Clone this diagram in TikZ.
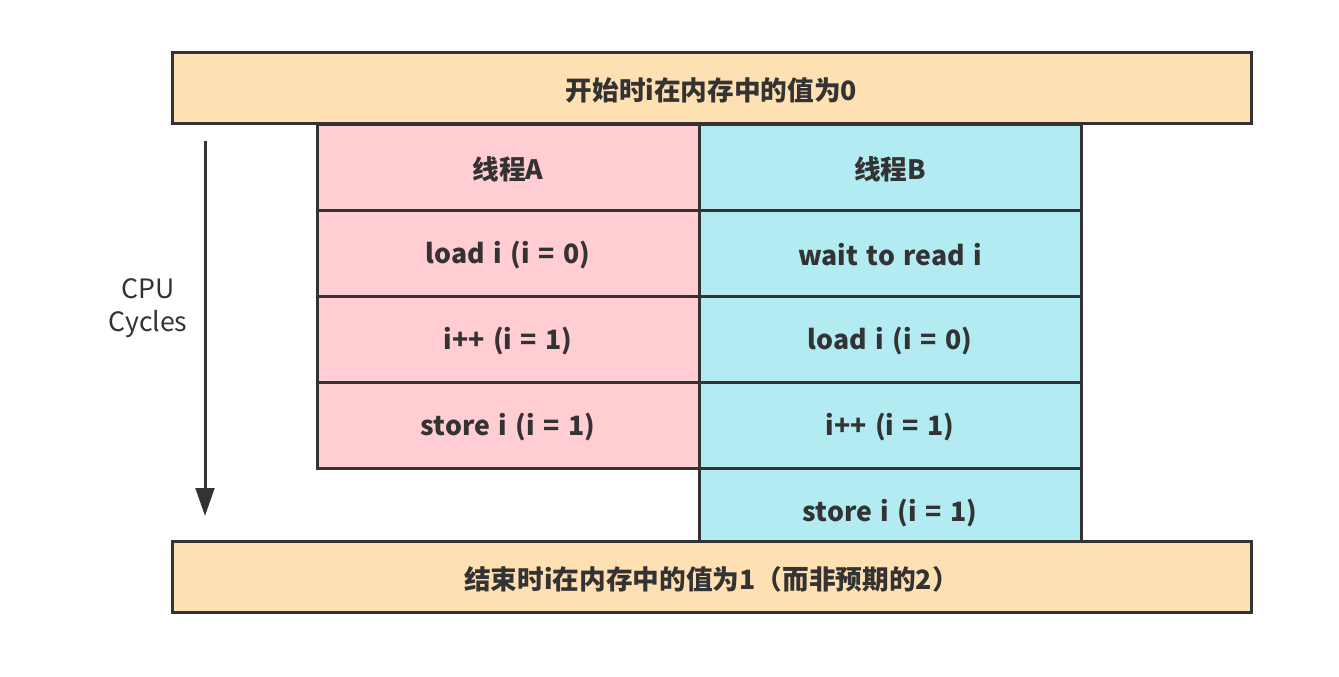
\documentclass[tikz,border=0pt]{standalone}
\usepackage{fontspec}
\setmainfont{Noto Sans CJK SC}[WordSpace=1.4]
\usetikzlibrary{arrows.meta, positioning}
\definecolor{barcol}{HTML}{FFE0B2}
\definecolor{threadAcol}{HTML}{FFCDD2}
\definecolor{threadBcol}{HTML}{B2EBF2}
\definecolor{linecol}{HTML}{333333}
\newcommand{\celltext}[1]{\raisebox{-1.5pt}[\height][\depth]{#1}}

\begin{document}
\begin{tikzpicture}[x=0.75pt, y={(0pt,-0.75pt)},
  box/.style={draw=linecol, line width=2.25pt, inner sep=0pt, text=linecol, font=\fontsize{20pt}{22pt}\selectfont\bfseries},
  bar/.style={box, fill=barcol, minimum width=809.25pt, minimum height=53.25pt},
  cellA/.style={box, fill=threadAcol, minimum width=286.5pt, minimum height=64.5pt},
  cellB/.style={box, fill=threadBcol, minimum width=286.5pt, minimum height=64.5pt}]
\useasboundingbox (0,0) rectangle (1339,676);

% Thread A
\foreach \y/\txt [count=\i] in {167/线程A, 253/load i (i = 0), 339/i++ (i = 1), 425/store i (i = 1)} {
  \node[cellA] (a\i) at (508,\y) {\celltext{\txt}};
}

% Thread B
\foreach \y/\txt [count=\i] in {167/线程B, 253/wait to read i, 339/load i (i = 0), 425/i++ (i = 1), 511/store i (i = 1)} {
  \node[cellB] (b\i) at (890,\y) {\celltext{\txt}};
}

% Memory state
\node[bar] (start) at (711.5,88) {\celltext{开始时i在内存中的值为0}};
\node[bar] (finish) at (711.5,577) {\celltext{结束时i在内存中的值为1（而非预期的2）}};

% Time axis
\coordinate (cputop) at (205,141);
\coordinate (cpubottom) at (205,516);
\draw[linecol, line width=2.25pt, -{Triangle[length=21pt, width=14pt]}] (cputop) -- (cpubottom);
\node[text=linecol, font=\fontsize{20pt}{25pt}\selectfont, align=center] (cpu) at (148,308) {CPU\\Cycles};
\end{tikzpicture}
\end{document}
